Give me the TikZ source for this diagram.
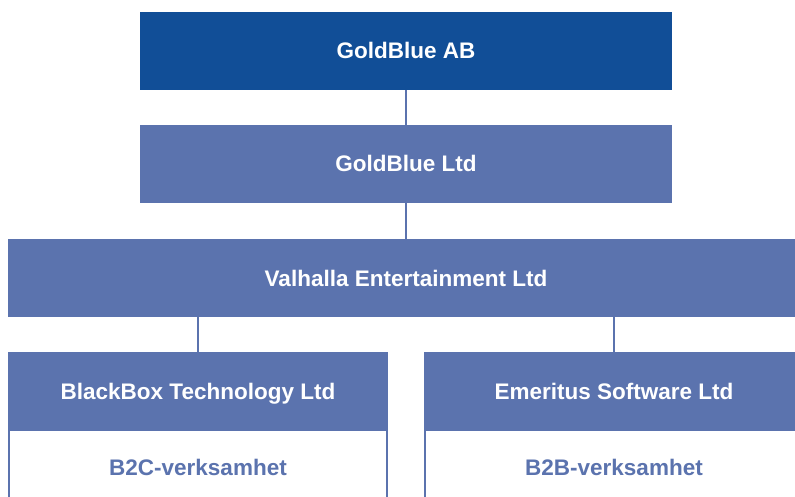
\documentclass[tikz,border=0pt]{standalone}
\usepackage{fontspec}
\setmainfont{Liberation Sans}
\definecolor{darkblue}{HTML}{114E97}
\definecolor{midblue}{HTML}{5B73AE}
\begin{document}
\begin{tikzpicture}[x=1pt,y=-1pt,
  every node/.style={inner sep=0pt, outer sep=0pt, text height=16pt, text depth=0pt,
    font=\fontsize{22.5}{26}\selectfont\bfseries},
  topbox/.style={rectangle, fill=darkblue, text=white, minimum width=532pt, minimum height=78pt},
  entbox/.style={rectangle, fill=midblue, text=white, minimum height=78pt},
  subbox/.style={rectangle, fill=white, draw=midblue, line width=2pt, text=midblue, minimum width=378pt, minimum height=74pt},
  link/.style={draw=midblue, line width=2pt}]
\useasboundingbox (0,0) rectangle (795,497);
\clip (0,0) rectangle (795,497);
% ownership chain
\node[topbox] (ab) at (406,51) {GoldBlue AB};
\node[entbox, minimum width=532pt] (ltd) at (406,164) {GoldBlue Ltd};
\node[entbox, minimum width=796pt] (val) at (406,278) {Valhalla Entertainment Ltd};
% business areas
\node[subbox] (b2c) at (198,467) {B2C-verksamhet};
\node[subbox] (b2b) at (614,467) {B2B-verksamhet};
\node[entbox, minimum width=380pt] (bb) at (198,391) {BlackBox Technology Ltd};
\node[entbox, minimum width=380pt] (em) at (614,391) {Emeritus Software Ltd};
% connectors
\path[link] (ab.south) -- (ltd.north);
\path[link] (ltd.south) -- (val.north);
\path[link] (val.south -| bb.north) -- (bb.north);
\path[link] (val.south -| em.north) -- (em.north);
\end{tikzpicture}
\end{document}
